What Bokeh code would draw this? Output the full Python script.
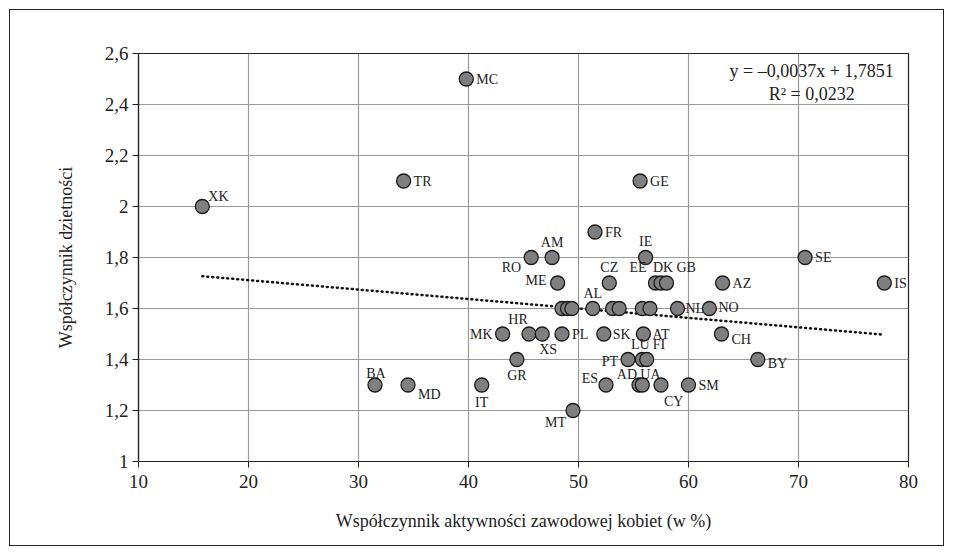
from bokeh.plotting import figure
from bokeh.models import ColumnDataSource, CustomJSTickFormatter, FixedTicker, Label
from bokeh.core.properties import value
from bokeh.embed import file_html
from bokeh.resources import INLINE

# ---- data ----
codes = ["XK", "TR", "MC", "GE", "FR", "AM", "RO", "IE", "SE",
         "ME", "CZ", "EE", "DK", "GB", "AZ", "IS",
         "", "", "", "AL", "", "", "", "", "NL", "NO",
         "MK", "HR", "XS", "PL", "SK", "AT", "CH",
         "GR", "PT", "LU", "FI", "BY",
         "BA", "MD", "IT", "ES", "AD", "UA", "CY", "SM",
         "MT"]
activity = [15.8, 34.1, 39.8, 55.6, 51.5, 47.6, 45.7, 56.1, 70.6,
            48.1, 52.8, 57.0, 57.5, 58.0, 63.1, 77.8,
            48.5, 49.0, 49.4, 51.3, 53.1, 53.7, 55.8, 56.5, 59.0, 61.9,
            43.1, 45.5, 46.7, 48.5, 52.3, 55.9, 63.0,
            44.4, 54.5, 55.8, 56.2, 66.3,
            31.5, 34.5, 41.2, 52.5, 55.5, 55.8, 57.5, 60.0,
            49.5]
fertility = [2.0, 2.1, 2.5, 2.1, 1.9, 1.8, 1.8, 1.8, 1.8,
             1.7, 1.7, 1.7, 1.7, 1.7, 1.7, 1.7,
             1.6, 1.6, 1.6, 1.6, 1.6, 1.6, 1.6, 1.6, 1.6, 1.6,
             1.5, 1.5, 1.5, 1.5, 1.5, 1.5, 1.5,
             1.4, 1.4, 1.4, 1.4, 1.4,
             1.3, 1.3, 1.3, 1.3, 1.3, 1.3, 1.3, 1.3,
             1.2]
slope = -0.0037
intercept = 1.7851
r2 = 0.0232
x_ticks = [10, 20, 30, 40, 50, 60, 70, 80]
y_ticks = [1.0, 1.2, 1.4, 1.6, 1.8, 2.0, 2.2, 2.4, 2.6]

# label placement (screen px offsets, alignment) - styling only
place = {
    "XK": (6, -10, "left"), "TR": (10, 0, "left"), "MC": (10, 0, "left"),
    "GE": (10, 0, "left"), "FR": (10, 0, "left"), "AM": (0, -15, "center"),
    "RO": (-10, 10, "right"), "IE": (0, -16, "center"), "SE": (10, 0, "left"),
    "ME": (-11, -3, "right"), "CZ": (0, -16, "center"), "EE": (-9, -16, "right"),
    "DK": (2, -16, "center"), "GB": (10, -16, "left"), "AZ": (10, 0, "left"),
    "IS": (10, 0, "left"), "AL": (0, -15, "center"), "NL": (8, 0, "left"),
    "NO": (9, -1, "left"), "MK": (-10, 0, "right"), "HR": (-11, -15, "center"),
    "XS": (6, 15, "center"), "PL": (10, 0, "left"), "SK": (9, 0, "left"),
    "AT": (9, 0, "left"), "CH": (10, 5, "left"), "GR": (0, 16, "center"),
    "PT": (-10, 2, "right"), "LU": (-2, -15, "center"), "FI": (6, -15, "left"),
    "BY": (10, 4, "left"), "BA": (1, -12, "center"), "MD": (10, 9, "left"),
    "IT": (0, 17, "center"), "ES": (-8, -7, "right"), "AD": (-2, -11, "right"),
    "UA": (-2, -11, "left"), "CY": (3, 16, "left"), "SM": (10, 0, "left"),
    "MT": (-7, 12, "right"),
}

serif = "Liberation Serif"

p = figure(width=935, height=537, output_backend="svg", toolbar_location=None,
           x_range=(10, 80), y_range=(1, 2.6),
           min_border_left=128, min_border_right=37, min_border_top=43, min_border_bottom=86,
           styles={"border": "1.5px solid #222", "margin": "9px 0 0 9px"})
p.background_fill_color = "white"
p.border_fill_color = "white"
p.outline_line_color = "#222222"
p.outline_line_width = 1.2

fmt = CustomJSTickFormatter(code="""
    if (Math.abs(tick - Math.round(tick)) < 1e-9) { return String(Math.round(tick)); }
    return tick.toFixed(1).replace('.', ',');
""")
p.xaxis.ticker = FixedTicker(ticks=x_ticks)
p.yaxis.ticker = FixedTicker(ticks=y_ticks)
p.yaxis.formatter = fmt
p.xaxis.formatter = fmt
for ax in (p.xaxis, p.yaxis):
    ax.axis_line_color = "#222222"
    ax.axis_line_width = 1.2
    ax.major_tick_line_color = "#222222"
    ax.major_tick_out = 6
    ax.major_tick_in = 0
    ax.minor_tick_line_color = None
    ax.major_label_text_font = serif
    ax.major_label_text_font_size = "19px"
    ax.major_label_text_color = "#222222"
    ax.axis_label_text_font = serif
    ax.axis_label_text_font_size = "18px"
    ax.axis_label_text_font_style = "normal"
    ax.axis_label_text_color = "#222222"
p.xaxis.axis_label = "Współczynnik aktywności zawodowej kobiet (w %)"
p.yaxis.axis_label = "Współczynnik dzietności"
p.xaxis.major_label_standoff = 7
p.yaxis.major_label_standoff = 4
p.xaxis.axis_label_standoff = 20
p.yaxis.axis_label_standoff = 26

p.grid.grid_line_color = "#9a9a9a"
p.grid.grid_line_width = 1.2

# trend line
x0, x1 = min(activity), max(activity)
p.line([x0, x1], [slope * x0 + intercept, slope * x1 + intercept],
       line_color="#111111", line_width=2.5, line_dash="1 4", line_cap="round")

src = ColumnDataSource(dict(x=activity, y=fertility))
p.scatter("x", "y", source=src, size=14, fill_color="#7f7f7f",
          line_color="#1a1a1a", line_width=1.3)

for align in ("left", "right", "center"):
    xs, ys, ts, dxs, dys = [], [], [], [], []
    for c, xv, yv in zip(codes, activity, fertility):
        if c and place[c][2] == align:
            xs.append(xv); ys.append(yv); ts.append(c)
            dxs.append(place[c][0]); dys.append(place[c][1])
    p.text(x=xs, y=ys, text=ts, x_offset=dxs, y_offset=dys,
           text_align=align, text_baseline="middle",
           text_font=value(serif), text_font_size="14px", text_color="#222222")

eq1 = "y = –" + f"{abs(slope):.4f}".replace(".", ",") + "x + " + f"{intercept:.4f}".replace(".", ",")
eq2 = "R² = " + f"{r2:.4f}".replace(".", ",")
p.add_layout(Label(x=71.2, y=2.533, text=eq1, text_align="center", text_baseline="middle",
                   text_font=serif, text_font_size="18px", text_color="#222222"))
p.add_layout(Label(x=71.2, y=2.443, text=eq2, text_align="center", text_baseline="middle",
                   text_font=serif, text_font_size="18px", text_color="#222222"))

open("out.html", "w").write(file_html(p, INLINE))
